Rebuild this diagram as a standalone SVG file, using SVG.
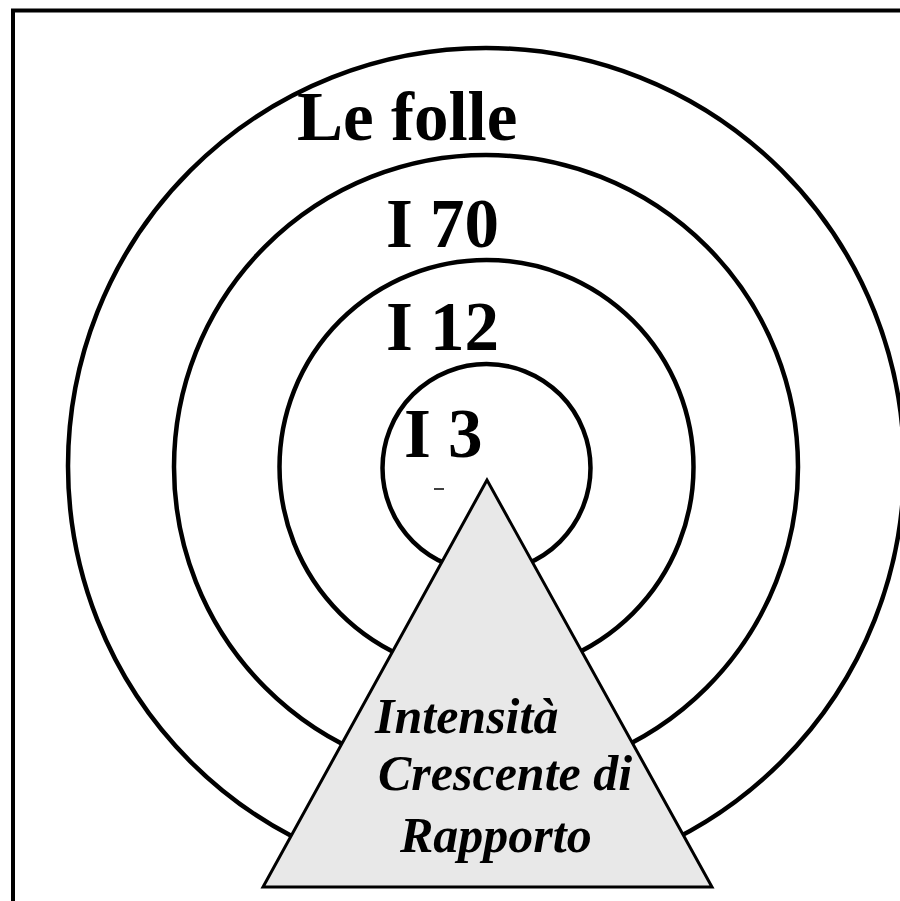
<svg xmlns="http://www.w3.org/2000/svg" width="900" height="901" viewBox="0 0 900 901">
<style>
.ring{fill:none;stroke:#000;stroke-width:4.5}
.lbl{font-family:"Liberation Serif","Times New Roman",serif;font-weight:bold;font-size:69px;fill:#000}
.tri{font-family:"Liberation Serif","Times New Roman",serif;font-weight:bold;font-style:italic;font-size:50px;fill:#000}
</style>
<rect x="0" y="0" width="900" height="901" fill="#fff"/>
<rect x="13" y="10.5" width="900" height="900" fill="none" stroke="#000" stroke-width="4"/>
<g id="ring-le-folle">
<circle class="ring" cx="486" cy="466" r="418"/>
<text class="lbl" x="297" y="140">Le folle</text>
</g>
<g id="ring-i70">
<circle class="ring" cx="486" cy="467" r="312"/>
<text class="lbl" x="386" y="247">I 70</text>
</g>
<g id="ring-i12">
<circle class="ring" cx="486.5" cy="467" r="207"/>
<text class="lbl" x="386" y="350">I 12</text>
</g>
<g id="ring-i3">
<circle class="ring" cx="486.5" cy="468" r="104"/>
<text class="lbl" x="404" y="457">I 3</text>
<line x1="434" y1="489" x2="444" y2="489" stroke="#000" stroke-width="1.5"/>
</g>
<g id="triangle">
<polygon points="487,480 263,887 712,887" fill="#e8e8e8" stroke="#000" stroke-width="3" stroke-linejoin="miter"/>
<text class="tri" x="375" y="733">Intensità</text>
<text class="tri" x="378" y="790">Crescente di</text>
<text class="tri" x="400" y="852">Rapporto</text>
</g>
<g id="connectors"></g>
</svg>
